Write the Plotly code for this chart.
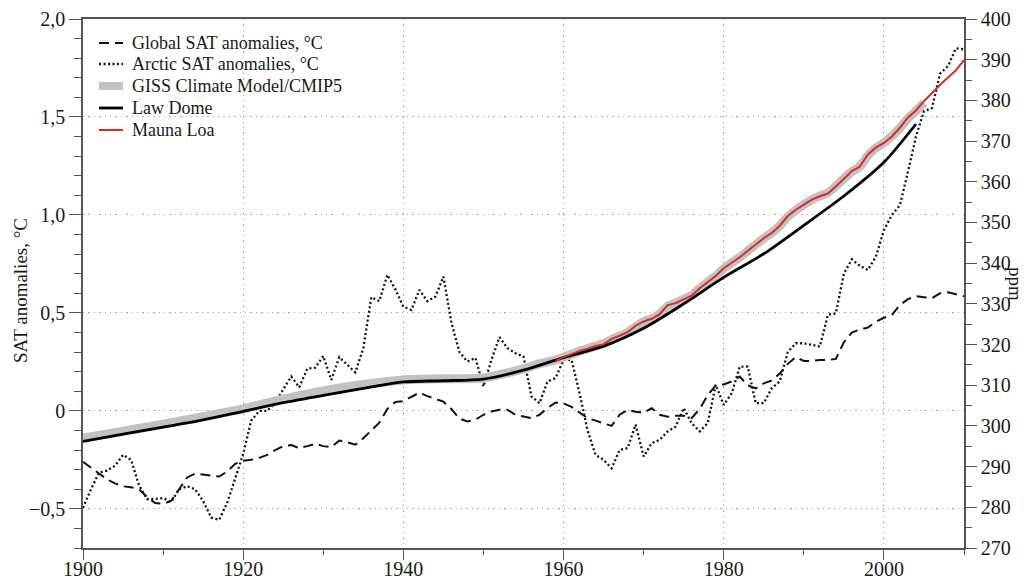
import plotly.graph_objects as go

# ---------------- data ----------------
sat_years = list(range(1900, 2011))

global_sat = [
    -0.26, -0.29, -0.32, -0.35, -0.37, -0.385, -0.39, -0.40, -0.44, -0.47,   # 1900-1909
    -0.475, -0.46, -0.40, -0.34, -0.32, -0.325, -0.33, -0.335, -0.31, -0.27,  # 1910-1919
    -0.255, -0.25, -0.24, -0.225, -0.20, -0.18, -0.175, -0.19, -0.18, -0.168, # 1920-1929
    -0.18, -0.185, -0.152, -0.16, -0.173, -0.14, -0.10, -0.06, 0.01, 0.045,   # 1930-1939
    0.05, 0.07, 0.093, 0.075, 0.06, 0.047, 0.01, -0.04, -0.054, -0.045,       # 1940-1949
    -0.02, -0.003, 0.005, 0.005, -0.02, -0.03, -0.037, -0.02, 0.015, 0.042,   # 1950-1959
    0.038, 0.02, -0.01, -0.037, -0.05, -0.065, -0.077, -0.02, 0.005, -0.005,  # 1960-1969
    -0.01, 0.014, -0.02, -0.03, -0.025, -0.025, -0.037, 0.01, 0.08, 0.13,     # 1970-1979
    0.135, 0.15, 0.175, 0.13, 0.115, 0.14, 0.155, 0.19, 0.24, 0.275,          # 1980-1989
    0.255, 0.255, 0.26, 0.26, 0.265, 0.35, 0.40, 0.415, 0.425, 0.455,         # 1990-1999
    0.475, 0.49, 0.54, 0.57, 0.585, 0.58, 0.575, 0.60, 0.605, 0.595,          # 2000-2009
    0.585,                                                                     # 2010
]

arctic_sat = [
    -0.495, -0.40, -0.315, -0.305, -0.28, -0.225, -0.25, -0.38, -0.45, -0.45,  # 1900-1909
    -0.445, -0.465, -0.40, -0.385, -0.40, -0.46, -0.545, -0.556, -0.47, -0.35, # 1910-1919
    -0.22, -0.05, 0.0, 0.0, 0.04, 0.11, 0.175, 0.12, 0.215, 0.22,              # 1920-1929
    0.28, 0.158, 0.274, 0.235, 0.196, 0.32, 0.58, 0.56, 0.694, 0.62,           # 1930-1939
    0.532, 0.515, 0.617, 0.56, 0.583, 0.685, 0.45, 0.30, 0.252, 0.27,          # 1940-1949
    0.124, 0.26, 0.376, 0.32, 0.294, 0.277, 0.073, 0.039, 0.15, 0.167,         # 1950-1959
    0.26, 0.26, 0.09, -0.10, -0.225, -0.25, -0.293, -0.20, -0.19, -0.07,       # 1960-1969
    -0.233, -0.165, -0.148, -0.105, -0.08, 0.014, -0.063, -0.105, -0.063, 0.133, # 1970-1979
    0.03, 0.09, 0.226, 0.226, 0.039, 0.039, 0.116, 0.15, 0.30, 0.345,          # 1980-1989
    0.345, 0.337, 0.328, 0.49, 0.498, 0.70, 0.774, 0.74, 0.719, 0.787,         # 1990-1999
    0.923, 1.0, 1.05, 1.22, 1.40, 1.53, 1.545, 1.72, 1.76, 1.85,               # 2000-2009
    1.845,                                                                      # 2010
]

giss_years = [1900, 1905, 1910, 1915, 1920, 1925, 1930, 1935, 1940, 1945, 1950, 1955, 1957,
              1959, 1960, 1961, 1962, 1963, 1964, 1965, 1966, 1967, 1968, 1969,
              1970, 1971, 1972, 1973, 1974, 1975, 1976, 1977, 1978, 1979,
              1980, 1981, 1982, 1983, 1984, 1985, 1986, 1987, 1988, 1989,
              1990, 1991, 1992, 1993, 1994, 1995, 1996, 1997, 1998, 1999,
              2000, 2001, 2002, 2003, 2004, 2005]
giss_co2 = [297.0, 298.7, 300.4, 302.3, 304.2, 306.6, 308.6, 310.2, 311.3, 311.6, 311.8, 314.0, 315.3,
            316.2, 316.9, 317.6, 318.4, 319.0, 319.6, 320.2, 321.2, 322.1, 323.0, 324.4,
            325.6, 326.4, 327.5, 329.4, 330.2, 331.1, 332.1, 333.8, 335.4, 336.8,
            338.7, 340.1, 341.4, 343.0, 344.6, 346.1, 347.5, 349.2, 351.4, 353.0,
            354.4, 355.6, 356.5, 357.3, 358.9, 360.8, 362.5, 363.8, 366.4, 368.3,
            369.6, 371.2, 373.2, 375.6, 377.4, 379.4]

law_years = [1900, 1905, 1910, 1915, 1920, 1925, 1930, 1935, 1940, 1945, 1950, 1955,
             1960, 1965, 1970, 1975, 1980, 1985, 1990, 1995, 2000, 2004]
law_co2 = [296.2, 298.0, 299.7, 301.5, 303.6, 305.7, 307.5, 309.2, 310.8, 311.1, 311.5, 313.7,
           316.8, 319.6, 324.0, 330.0, 336.5, 342.3, 349.3, 356.5, 364.8, 374.2]

mauna_years = list(range(1959, 2011))
mauna_co2 = [315.97, 316.91, 317.64, 318.45, 318.99, 319.62, 320.04, 321.38, 322.16, 323.04,
             324.62, 325.68, 326.32, 327.45, 329.68, 330.18, 331.11, 332.04, 333.83, 335.40,
             336.84, 338.75, 340.11, 341.45, 343.05, 344.65, 346.12, 347.42, 349.19, 351.57,
             353.12, 354.39, 355.61, 356.45, 357.10, 358.83, 360.82, 362.61, 363.73, 366.70,
             368.38, 369.55, 371.14, 373.28, 375.80, 377.52, 379.80, 381.90, 383.79, 385.60,
             387.43, 389.90]

left_tickvals = [-0.5, 0, 0.5, 1.0, 1.5, 2.0]
left_ticktext = ["\u22120,5", "0", "0,5", "1,0", "1,5", "2,0"]

legend_names = ["Global SAT anomalies, \u00b0C", "Arctic SAT anomalies, \u00b0C",
                "GISS Climate Model/CMIP5", "Law Dome", "Mauna Loa"]

# ---------------- styles ----------------
FONT = "Liberation Serif"
TXT = "#1a1a1a"
AX = "#555555"
styles = [
    dict(color="#111111", width=2, dash="10px,6px"),
    dict(color="#111111", width=2.3, dash="2px,2.5px"),
    dict(color="#c2c2c2", width=9),
    dict(color="#000000", width=2.8),
    dict(color="#dd2a1f", width=2),
]

# page body has an 8px margin: figure occupies page x 8..1027, y 8..581
W, H = 1019, 573
ML, MR, MT, MB = 75, 63, 11, 33
PW, PH = W - ML - MR, H - MT - MB


def px_x(page_x):
    return (page_x - 8 - ML) / PW


def px_y(page_y):
    return 1 - (page_y - 8 - MT) / PH


fig = go.Figure()

fig.add_trace(go.Scatter(x=sat_years, y=global_sat, mode="lines", name=legend_names[0],
                         line=styles[0], showlegend=False))
fig.add_trace(go.Scatter(x=sat_years, y=arctic_sat, mode="lines", name=legend_names[1],
                         line=styles[1], showlegend=False))
fig.add_trace(go.Scatter(x=giss_years, y=giss_co2, mode="lines", yaxis="y2", name=legend_names[2],
                         line=dict(**styles[2], shape="spline", smoothing=0.6), showlegend=False))
fig.add_trace(go.Scatter(x=law_years, y=law_co2, mode="lines", yaxis="y2", name=legend_names[3],
                         line=dict(**styles[3], shape="spline", smoothing=0.8), showlegend=False))
fig.add_trace(go.Scatter(x=mauna_years, y=mauna_co2, mode="lines", yaxis="y2", name=legend_names[4],
                         line=styles[4], showlegend=False))

# manual legend (white box hiding the grid, sample lines and labels)
shapes = [dict(type="rect", xref="paper", yref="paper", layer="between",
               x0=px_x(86), x1=px_x(352), y0=px_y(142), y1=px_y(28),
               fillcolor="white", line=dict(width=0))]
annotations = []
row_y = [43, 64, 86, 108, 130]
for name, st, yy in zip(legend_names, styles, row_y):
    shapes.append(dict(type="line", xref="paper", yref="paper", layer="above",
                       x0=px_x(99), x1=px_x(123), y0=px_y(yy), y1=px_y(yy),
                       line=dict(color=st["color"], width=min(st["width"], 8),
                                 dash=st.get("dash", "solid"))))
    annotations.append(dict(text=name, xref="paper", yref="paper", x=px_x(130), y=px_y(yy),
                            xanchor="left", yanchor="middle", showarrow=False,
                            font=dict(family=FONT, size=18, color=TXT)))

annotations.append(dict(text="SAT anomalies, \u00b0C", xref="paper", yref="paper",
                        x=px_x(20), y=px_y(291), xanchor="center", yanchor="middle",
                        textangle=-90, showarrow=False,
                        font=dict(family=FONT, size=19, color=TXT)))
annotations.append(dict(text="ppm", xref="paper", yref="paper",
                        x=px_x(1016), y=px_y(284), xanchor="center", yanchor="middle",
                        textangle=90, showarrow=False,
                        font=dict(family=FONT, size=19, color=TXT)))

GRID = dict(showgrid=True, gridcolor="#a8a8a8", gridwidth=1.4, griddash="1.4px,4px")

fig.update_layout(
    width=W, height=H,
    margin=dict(l=ML, r=MR, t=MT, b=MB, pad=0, autoexpand=False),
    paper_bgcolor="white", plot_bgcolor="white",
    font=dict(family=FONT, size=18, color=TXT),
    showlegend=False,
    xaxis=dict(range=[1900, 2010], tick0=1900, dtick=20, automargin=False,
               showline=True, linecolor=AX, linewidth=1.5, mirror=True,
               ticks="outside", ticklen=10, tickcolor=AX, tickwidth=1.3,
               ticklabelstandoff=-8,
               minor=dict(tick0=1900, dtick=10, ticks="outside", ticklen=5,
                          tickcolor=AX, tickwidth=1.3, showgrid=False),
               zeroline=False, **GRID,
               tickfont=dict(family=FONT, size=20, color=TXT)),
    yaxis=dict(range=[-0.7, 2.0], tickmode="array", tickvals=left_tickvals,
               ticktext=left_ticktext, automargin=False,
               showline=True, linecolor=AX, linewidth=1.5,
               ticks="outside", ticklen=12, tickcolor=AX, tickwidth=1.3,
               minor=dict(tickmode="linear", tick0=0, dtick=0.1, ticks="outside",
                          ticklen=7, tickcolor=AX, tickwidth=1.3, showgrid=False),
               zeroline=False, **GRID,
               tickfont=dict(family=FONT, size=20, color=TXT)),
    yaxis2=dict(range=[270, 400], overlaying="y", side="right", tick0=270, dtick=10,
                automargin=False,
                showline=True, linecolor=AX, linewidth=1.5,
                ticks="outside", ticklen=11, tickcolor=AX, tickwidth=1.3,
                minor=dict(tick0=270, dtick=5, ticks="outside", ticklen=6,
                           tickcolor=AX, tickwidth=1.3, showgrid=False),
                showgrid=False, zeroline=False,
                tickfont=dict(family=FONT, size=20, color=TXT)),
    shapes=shapes,
    annotations=annotations,
)

fig.write_html("out.html")
